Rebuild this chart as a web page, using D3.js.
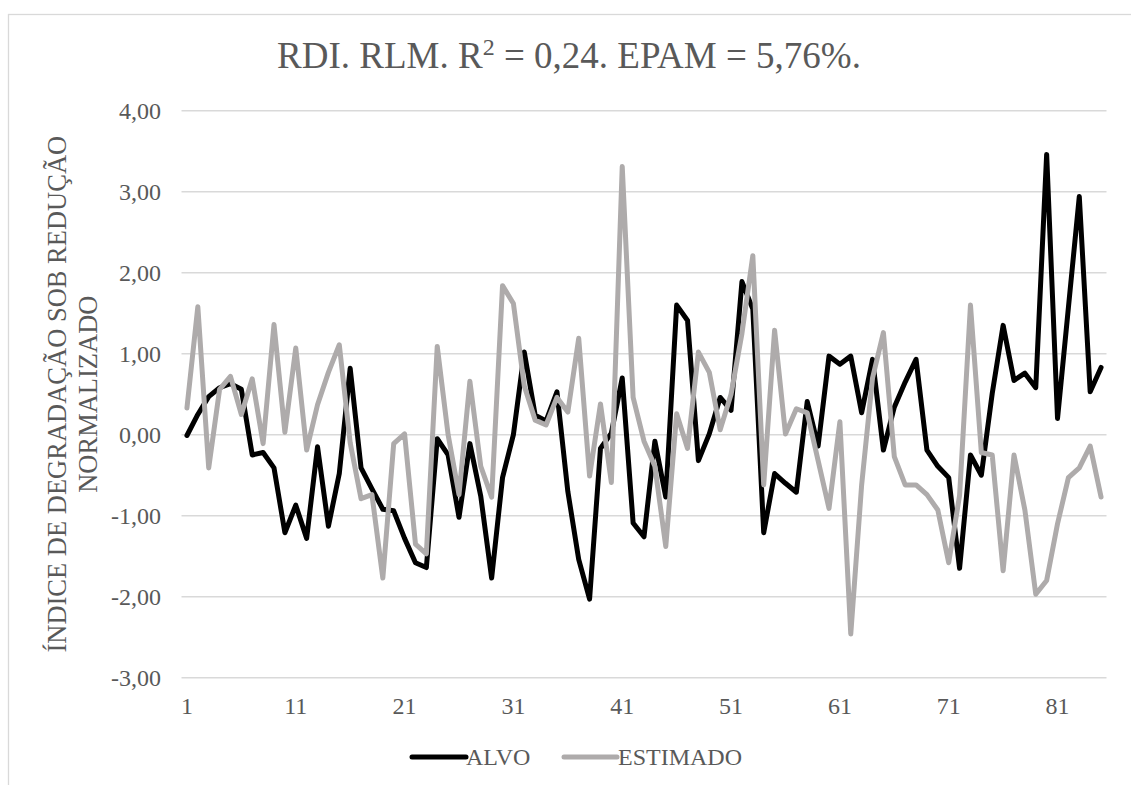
<!DOCTYPE html>
<html>
<head>
<meta charset="utf-8">
<script src="https://cdn.jsdelivr.net/npm/d3@7"></script>
<style>
  html, body { margin: 0; padding: 0; background: #fff; }
  svg { display: block; }
  text { font-family: "Liberation Serif", "Times New Roman", serif; fill: #595959; }
</style>
</head>
<body>
<svg id="chart" width="1131" height="785"></svg>
<script>
// Observation index (1..85)
const categories = d3.range(1, 86);

// Normalised RDI: target values
const alvo = [
  -0.01, 0.25, 0.47, 0.58, 0.63, 0.56, -0.25, -0.22, -0.41, -1.21,
  -0.87, -1.28, -0.15, -1.13, -0.48, 0.82, -0.41, -0.67, -0.92, -0.94,
  -1.28, -1.58, -1.64, -0.05, -0.25, -1.02, -0.11, -0.76, -1.77, -0.53,
  0.00, 1.02, 0.24, 0.17, 0.53, -0.70, -1.54, -2.03, -0.17, 0.02,
  0.70, -1.09, -1.26, -0.08, -0.77, 1.60, 1.41, -0.32, 0.01, 0.46,
  0.30, 1.89, 1.55, -1.21, -0.48, -0.60, -0.71, 0.41, -0.14, 0.97,
  0.87, 0.97, 0.27, 0.93, -0.19, 0.34, 0.65, 0.93, -0.19, -0.39,
  -0.53, -1.65, -0.25, -0.50, 0.51, 1.35, 0.67, 0.76, 0.58, 3.46,
  0.20, 1.57, 2.94, 0.53, 0.83
];

// Normalised RDI: values estimated by the multiple linear regression
const estimado = [
  0.33, 1.58, -0.41, 0.56, 0.72, 0.25, 0.69, -0.11, 1.36, 0.03,
  1.07, -0.19, 0.37, 0.77, 1.11, -0.10, -0.79, -0.74, -1.77, -0.11,
  0.01, -1.35, -1.47, 1.09, 0.00, -0.74, 0.66, -0.39, -0.77, 1.84,
  1.62, 0.60, 0.18, 0.12, 0.46, 0.28, 1.19, -0.51, 0.38, -0.59,
  3.31, 0.46, -0.08, -0.39, -1.38, 0.26, -0.17, 1.02, 0.77, 0.06,
  0.50, 1.25, 2.21, -0.62, 1.29, 0.01, 0.32, 0.27, -0.32, -0.91,
  0.16, -2.46, -0.62, 0.70, 1.26, -0.27, -0.62, -0.62, -0.74, -0.93,
  -1.58, -0.75, 1.60, -0.22, -0.25, -1.68, -0.25, -0.93, -1.97, -1.80,
  -1.10, -0.53, -0.41, -0.14, -0.77
];

const yTicks = [-3, -2, -1, 0, 1, 2, 3, 4];
const xTickLabels = [1, 11, 21, 31, 41, 51, 61, 71, 81];
const seriesNames = ["ALVO", "ESTIMADO"];
const seriesColors = ["#000000", "#AEABAB"];

const svg = d3.select("#chart");

// outer chart frame
svg.append("rect")
  .attr("x", 8.5).attr("y", 14.5)
  .attr("width", 1200).attr("height", 900)
  .attr("fill", "none").attr("stroke", "#D9D9D9").attr("stroke-width", 1.3);

const plot = { left: 181.5, right: 1106.5, top: 110.7, bottom: 677.7 };

const x = d3.scalePoint()
  .domain(categories)
  .range([plot.left, plot.right])
  .padding(0.5);

const y = d3.scaleLinear()
  .domain([-3, 4])
  .range([plot.bottom, plot.top]);

// horizontal gridlines
svg.append("g")
  .selectAll("line")
  .data(yTicks)
  .join("line")
  .attr("x1", plot.left).attr("x2", plot.right)
  .attr("y1", d => y(d)).attr("y2", d => y(d))
  .attr("stroke", "#D9D9D9").attr("stroke-width", 1.5);

// y axis tick labels
const fmt = v => v.toFixed(2).replace(".", ",");
svg.append("g")
  .selectAll("text")
  .data(yTicks)
  .join("text")
  .attr("x", 161)
  .attr("y", d => y(d) + 8)
  .attr("text-anchor", "end")
  .attr("font-size", 24)
  .text(fmt);

// x axis tick labels
svg.append("g")
  .selectAll("text")
  .data(xTickLabels)
  .join("text")
  .attr("x", d => x(d))
  .attr("y", 714)
  .attr("text-anchor", "middle")
  .attr("font-size", 24)
  .text(d => d);

// y axis title (two lines)
const yTitle = svg.append("text")
  .attr("transform", `translate(0, ${(plot.top + plot.bottom) / 2}) rotate(-90)`)
  .attr("text-anchor", "middle")
  .attr("font-size", 26.5);
yTitle.append("tspan").attr("x", 0).attr("y", 66).text("ÍNDICE DE DEGRADAÇÃO SOB REDUÇÃO");
yTitle.append("tspan").attr("x", 0).attr("y", 97).text("NORMALIZADO");

// chart title
const title = svg.append("text")
  .attr("x", 569).attr("y", 68)
  .attr("text-anchor", "middle")
  .attr("font-size", 37);
title.append("tspan").text("RDI. RLM. R");
title.append("tspan").attr("font-size", 24).attr("dy", -13).text("2");
title.append("tspan").attr("dy", 13).text(" = 0,24. EPAM = 5,76%.");

// series lines
const line = d3.line()
  .x((d, i) => x(categories[i]))
  .y(d => y(d));

[alvo, estimado].forEach((vals, k) => {
  svg.append("path")
    .datum(vals)
    .attr("d", line)
    .attr("fill", "none")
    .attr("stroke", seriesColors[k])
    .attr("stroke-width", 5)
    .attr("stroke-linejoin", "round")
    .attr("stroke-linecap", "round");
});

// legend
const legendItems = [
  { x1: 412, x2: 466, tx: 466 },
  { x1: 564, x2: 617, tx: 618 }
];
const legend = svg.append("g");
legendItems.forEach((it, k) => {
  legend.append("line")
    .attr("x1", it.x1).attr("x2", it.x2)
    .attr("y1", 757).attr("y2", 757)
    .attr("stroke", seriesColors[k])
    .attr("stroke-width", 5)
    .attr("stroke-linecap", "round");
  legend.append("text")
    .attr("x", it.tx).attr("y", 765)
    .attr("font-size", 24)
    .text(seriesNames[k]);
});
</script>
</body>
</html>
